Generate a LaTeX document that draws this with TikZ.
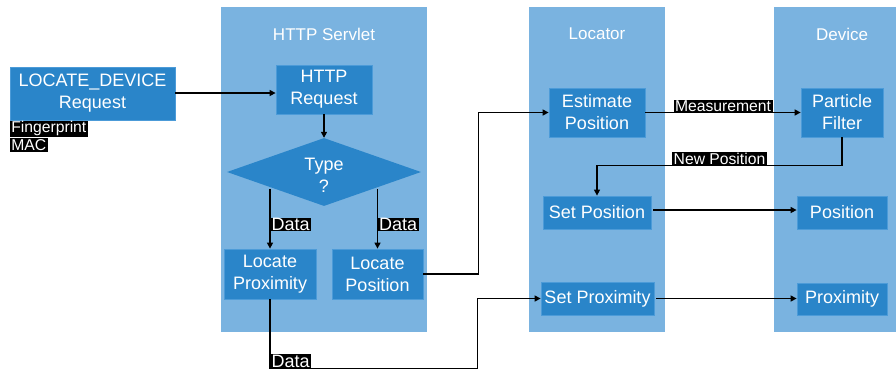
\documentclass[tikz,border=0pt]{standalone}
\usepackage{fontspec}
\setmainfont{Liberation Sans}
\usetikzlibrary{shapes.geometric,arrows.meta,calc}
\definecolor{colfill}{HTML}{7AB3E0}
\definecolor{boxfill}{HTML}{2A85C9}
\definecolor{boxline}{HTML}{4C9BD8}
\tikzset{
  column/.style={fill=colfill, draw=none, inner sep=0pt, anchor=north west},
  coltitle/.style={text=white, font=\fontsize{17}{20}\selectfont},
  box/.style={rectangle, fill=boxfill, draw=boxline, line width=0.8pt, inner sep=0pt,
    text=white, align=center, font=\fontsize{18}{22}\selectfont},
  decision/.style={diamond, fill=boxfill, draw=none, inner sep=0pt,
    text=white, align=center, font=\fontsize{18}{22}\selectfont},
  lbl/.style={fill=black, text=white, inner xsep=1.5pt, inner ysep=1pt,
    font=\fontsize{15.7}{18}\selectfont},
  dlbl/.style={fill=black, text=white, inner xsep=1.5pt, inner ysep=0.5pt,
    font=\fontsize{18}{20}\selectfont},
  arr/.style={draw=black, line width=1.4pt, -{Triangle[length=6pt,width=6pt]}},
  conn/.style={draw=black, line width=1.4pt}
}
\begin{document}
\begin{tikzpicture}[x=1pt,y=-1pt]
\useasboundingbox (0,0) rectangle (896,370);
% columns
\node[column, minimum width=206, minimum height=325] (colservlet) at (221,7) {};
\node[column, minimum width=136, minimum height=325] (collocator) at (529,7) {};
\node[column, minimum width=122, minimum height=325] (coldevice) at (774,7) {};
\node[coltitle] (tservlet) at (324,34) {HTTP Servlet};
\node[coltitle] (tlocator) at (597,34) {Locator};
\node[coltitle] (tdevice) at (842,34) {Device};
% nodes
\node[box, minimum width=165, minimum height=53] (req) at (92.5,93.5) {LOCATE\_DEVICE\\Request};
\node[lbl, anchor=north west] (fp) at (req.south west) {Fingerprint};
\node[lbl, anchor=north west, inner ysep=1.5pt] (mac) at (fp.south west) {MAC};
\node[box, minimum width=96, minimum height=49] (hreq) at (324,89.5) {HTTP\\Request};
\node[decision, minimum width=194, minimum height=68] (dia) at (324,172) {};
\node[text=white, align=center, font=\fontsize{18}{22}\selectfont] (diatext) at (324,175) {Type\\?};
\node[box, minimum width=92, minimum height=50] (lprox) at (270,274) {Locate\\Proximity};
\node[box, minimum width=91, minimum height=50] (lpos) at (377.5,274) {Locate\\Position};
\node[box, minimum width=96, minimum height=49] (est) at (597,112.5) {Estimate\\Position};
\node[box, minimum width=82, minimum height=49] (pf) at (842,112.5) {Particle\\Filter};
\node[box, minimum width=108, minimum height=33] (setpos) at (597,212.5) {Set Position};
\node[box, minimum width=90, minimum height=33] (posd) at (842,212.5) {Position};
\node[box, minimum width=113, minimum height=33] (sprox) at (597.5,298.5) {Set Proximity};
\node[box, minimum width=90, minimum height=32] (proxd) at (842,299) {Proximity};
% connectors
\draw[arr] (req.east |- 0,93) -- (hreq.west |- 0,93);
\draw[arr] (hreq.south) -- (dia.north);
\draw[arr] (dia.south west -| lprox.north) -- node[dlbl, pos=0.72, anchor=south west, xshift=-0.6pt]{Data} (lprox.north);
\draw[arr] (dia.south east -| lpos.north) -- node[dlbl, pos=0.72, anchor=south west, xshift=-0.6pt]{Data} (lpos.north);
\draw[arr] (lpos.east) -- ++(55,0) |- (est.west);
\draw[arr] (lprox.south) -- ++(0,69) node[dlbl, anchor=south west, xshift=-0.6pt]{Data} -| ($(sprox.west)+(-63,0)$) -- (sprox.west);
\draw[arr] (est.east) -- node[lbl, midway, anchor=south, inner ysep=0.5pt]{Measurement} (pf.west);
\draw[arr] (pf.south) -- ++(0,28) -| node[lbl, pos=0.25, anchor=south, inner ysep=0.5pt]{New Position} (setpos.north);
\draw[arr, shorten <=2pt] (setpos.east |- 0,210) -- (posd.west |- 0,210);
\draw[arr, shorten <=2pt] (sprox.east) -- (proxd.west |- sprox.east);
\end{tikzpicture}
\end{document}
